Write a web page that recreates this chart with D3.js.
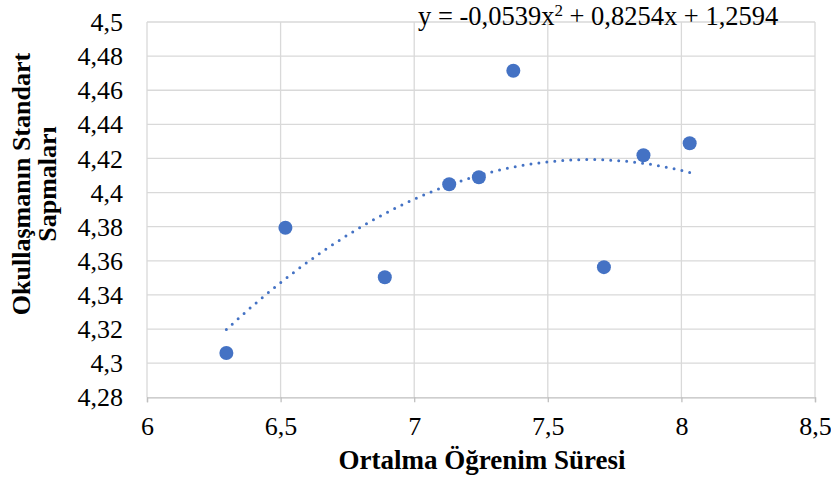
<!DOCTYPE html>
<html>
<head>
<meta charset="utf-8">
<script src="https://cdn.jsdelivr.net/npm/d3@7"></script>
<style>
  body { margin: 0; background: #fff; }
  text { font-family: "Liberation Serif", "Times New Roman", serif; fill: #000; }
</style>
</head>
<body>
<div id="chart-area"></div>
<script>
var xValues = [6.297, 6.518, 6.890, 7.131, 7.242, 7.371, 7.710, 7.858, 8.031]
var yValues = [4.306, 4.3794, 4.3504, 4.4049, 4.409, 4.4714, 4.3563, 4.4219, 4.4289]
var xTicks = [6, 6.5, 7, 7.5, 8, 8.5]
var yTicks = [4.28, 4.3, 4.32, 4.34, 4.36, 4.38, 4.4, 4.42, 4.44, 4.46, 4.48, 4.5]
var trendCoef = [-0.0539, 0.8254, 1.2594]   // a, b, c
var xTitle = "Ortalma Öğrenim Süresi"
var yTitle = ["Okullaşmanın Standart", "Sapmaları"]

var canvasWidth = 831
var canvasHeight = 483
var margin = {top: 22, right: 16, bottom: 86, left: 147}

var svg = d3.select("#chart-area")
	.append("svg")
	.attr("width", canvasWidth)
	.attr("height", canvasHeight)

var x = d3.scaleLinear()
	.domain([6, 8.5])
	.range([margin.left, canvasWidth - margin.right])

var y = d3.scaleLinear()
	.domain([4.28, 4.5])
	.range([canvasHeight - margin.bottom + 0.3, margin.top])

var fmt = function(d){ return String(+d.toFixed(2)).replace(".", ",") }

// gridlines
svg.append("g")
	.selectAll("line")
	.data(yTicks.slice(1))
	.enter().append("line")
		.attr("x1", x(6)).attr("x2", x(8.5))
		.attr("y1", function(d){ return y(d) }).attr("y2", function(d){ return y(d) })
		.attr("stroke", "#d9d9d9").attr("stroke-width", 1.3)

svg.append("g")
	.selectAll("line")
	.data(xTicks)
	.enter().append("line")
		.attr("x1", function(d){ return x(d) }).attr("x2", function(d){ return x(d) })
		.attr("y1", y(4.5)).attr("y2", y(4.28))
		.attr("stroke", "#d9d9d9").attr("stroke-width", 1.3)

// x axis
var xAxis = svg.append("g")
	.attr("transform", "translate(0," + y(4.28) + ")")
	.call(d3.axisBottom(x).tickValues(xTicks).tickFormat(fmt).tickSize(5))
xAxis.select(".domain").attr("stroke", "#bfbfbf").attr("stroke-width", 1.3)
xAxis.selectAll(".tick line").attr("stroke", "#bfbfbf").attr("stroke-width", 1.3)
xAxis.selectAll("text")
	.attr("font-size", "26px")
	.attr("font-family", "Liberation Serif")
	.attr("y", 38)
	.attr("dy", 0)

// y axis labels
var yAxis = svg.append("g")
	.attr("transform", "translate(" + x(6) + ",0)")
	.call(d3.axisLeft(y).tickValues(yTicks).tickFormat(fmt).tickSize(0).tickPadding(24))
yAxis.select(".domain").remove()
yAxis.selectAll("text")
	.attr("font-size", "26px")
	.attr("font-family", "Liberation Serif")
	.attr("dy", "0.33em")

// trendline
var xMin = d3.min(xValues), xMax = d3.max(xValues)
var trendX = d3.range(0, 101).map(function(i){ return xMin + (xMax - xMin) * i / 100 })
var line = d3.line()
	.x(function(d){ return x(d) })
	.y(function(d){ return y(trendCoef[0] * d * d + trendCoef[1] * d + trendCoef[2]) })

svg.append("path")
	.datum(trendX)
	.attr("d", line)
	.attr("fill", "none")
	.attr("stroke", "#4472c4")
	.attr("stroke-width", 3)
	.attr("stroke-linecap", "round")
	.attr("stroke-dasharray", "0 8")

// points
svg.append("g")
	.selectAll("circle")
	.data(xValues)
	.enter().append("circle")
		.attr("cx", function(d){ return x(d) })
		.attr("cy", function(d, i){ return y(yValues[i]) })
		.attr("r", 7)
		.attr("fill", "#4472c4")

// equation
var eq = svg.append("text")
	.attr("x", 418)
	.attr("y", 25)
	.attr("font-size", "26.5px")
eq.append("tspan").text("y = -0,0539x")
eq.append("tspan").attr("font-size", "17px").attr("dy", -9).text("2")
eq.append("tspan").attr("dy", 9).text(" + 0,8254x + 1,2594")

// axis titles
svg.append("text")
	.attr("x", (x(6) + x(8.5)) / 2 + 1)
	.attr("y", 469)
	.attr("text-anchor", "middle")
	.attr("font-size", "27px")
	.attr("font-weight", "bold")
	.text(xTitle)

var yt = svg.append("text")
	.attr("transform", "translate(30,184) rotate(-90)")
	.attr("text-anchor", "middle")
	.attr("font-size", "26px")
	.attr("font-weight", "bold")
yt.append("tspan").attr("x", 0).attr("dy", 0).text(yTitle[0])
yt.append("tspan").attr("x", 0).attr("dy", 26).text(yTitle[1])
</script>
</body>
</html>
